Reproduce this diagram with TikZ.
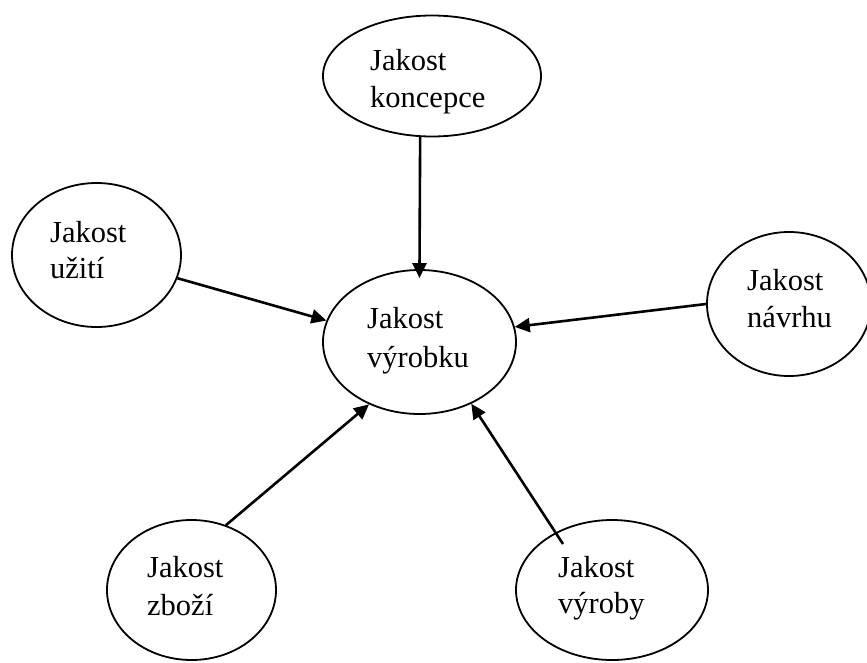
\documentclass[tikz,border=0pt]{standalone}
\usepackage{fontspec}
\setmainfont{Liberation Serif}
\usetikzlibrary{shapes.geometric,arrows.meta}
\begin{document}
\begin{tikzpicture}[x=1pt,y=-1pt,
  bubble/.style={draw,ellipse,line width=1.8pt,inner sep=0pt},
  lbl/.style={anchor=base west,inner sep=0pt,font=\fontsize{30.5}{37}\selectfont},
  arr/.style={line width=2.6pt,-{Triangle[length=15pt,width=14pt]}}]
\useasboundingbox (0,0) rectangle (867,662);
% ellipses
\node[bubble,minimum width=218pt,minimum height=121pt] (ko) at (432,76) {};
\node[bubble,minimum width=169pt,minimum height=144pt] (uz) at (96.5,255) {};
\node[bubble,minimum width=193pt,minimum height=144pt] (vk) at (419.5,342) {};
\node[bubble,minimum width=164pt,minimum height=144pt] (na) at (789,304) {};
\node[bubble,minimum width=169pt,minimum height=140pt] (zb) at (191.5,590) {};
\node[bubble,minimum width=192pt,minimum height=140pt] (vy) at (612,590) {};
% labels
\node[lbl] (ko1) at (370,70) {Jakost};
\node[lbl] (ko2) at (370,107) {koncepce};
\node[lbl] (uz1) at (50,242) {Jakost};
\node[lbl] (uz2) at (50,278) {užití};
\node[lbl] (vk1) at (367,328) {Jakost};
\node[lbl] (vk2) at (367,367) {výrobku};
\node[lbl] (na1) at (747,290) {Jakost};
\node[lbl] (na2) at (747,327) {návrhu};
\node[lbl] (zb1) at (147,577) {Jakost};
\node[lbl] (zb2) at (147,615) {zboží};
\node[lbl] (vy1) at (558,577) {Jakost};
\node[lbl] (vy2) at (558,613) {výroby};
% connectors
\coordinate (vyin) at (563,544);
\draw[arr,shorten >=-9pt] (ko.-101) -- (vk.north);
\draw[arr] (uz.-16.7) -- (vk.167);
\draw[arr] (na.west) -- (vk.9);
\draw[arr] (zb.62) -- (vk.-129);
\draw[arr] (vyin) -- (vk.-50);
\end{tikzpicture}
\end{document}
